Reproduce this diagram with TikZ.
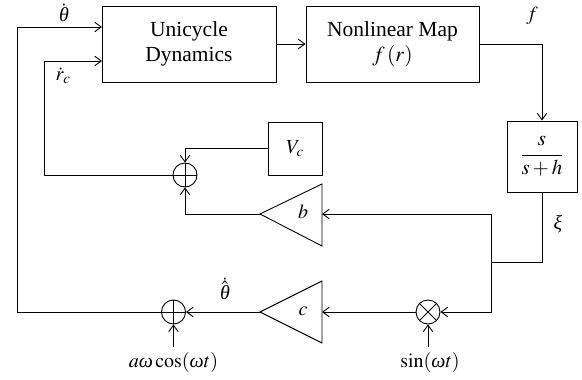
\documentclass[tikz,border=0pt]{standalone}
\usepackage{mathptmx}
\usepackage{fontspec}
\setmainfont{Liberation Serif}
\usetikzlibrary{arrows.meta}

% italic Greek taken from the text face
\newcommand{\gk}[1]{\mbox{\itshape #1}}

\tikzset{
  wire/.style={line width=0.9pt},
  flow/.style={wire, -{Straight Barb[length=6.5pt,width=9.5pt,line width=0.9pt]}},
  blockbox/.style={draw, line width=0.9pt, inner sep=0pt, align=center,
    font=\fontsize{21.5}{25}\selectfont},
  junction/.style={draw, circle, line width=0.9pt, minimum size=24pt, inner sep=0pt},
  lbl/.style={inner sep=0pt, font=\fontsize{20}{23}\selectfont},
}

\begin{document}
\begin{tikzpicture}[x=1pt, y=-1pt]
\useasboundingbox (0,0) rectangle (582,380);

% main blocks
\node[blockbox, minimum width=174pt, minimum height=76pt] (uni) at (189,44) {Unicycle\\Dynamics};
\node[blockbox, minimum width=173pt, minimum height=76pt] (nlm) at (392.5,44) {Nonlinear Map\\$f\,(r)$};
\node[blockbox, minimum width=70pt, minimum height=71pt] (filt) at (542,156.5) {\fontsize{21}{24}\selectfont$\displaystyle\frac{s}{s+h}$};
\node[blockbox, minimum width=54pt, minimum height=53pt] (vc) at (295,148.5) {\fontsize{20}{23}\selectfont$V_{c}$};

% gain triangles
\coordinate (bTip) at (260,214);
\coordinate (bIn) at (322,214);
\draw[wire, line join=miter] (bTip) -- (322,184) -- (322,246) -- cycle;
\node[lbl] (bLab) at (303,212) {$b$};

\coordinate (cTip) at (260,312);
\coordinate (cIn) at (322,312);
\draw[wire, line join=miter] (cTip) -- (322,281) -- (322,343) -- cycle;
\node[lbl] (cLab) at (303,311) {$c$};

% summing and multiplying junctions
\node[junction] (sumA) at (185,175) {};
\draw[wire] (sumA.north) -- (sumA.south) (sumA.west) -- (sumA.east);
\node[junction] (sumB) at (173.5,312) {};
\draw[wire] (sumB.north) -- (sumB.south) (sumB.west) -- (sumB.east);
\node[junction] (mult) at (428,312) {};
\draw[wire] (mult.north west) -- (mult.south east) (mult.north east) -- (mult.south west);

% external signals
\node[lbl] (cosIn) at (173.5,362) {$a\gk{ω}\cos(\gk{ω}t)$};
\node[lbl] (sinIn) at (430,362) {$\sin(\gk{ω}t)$};
\coordinate (cosTop) at (173.5,347);
\coordinate (sinTop) at (428,347);

% routing points
\coordinate (fCorner) at (542,44);
\coordinate (xiEnd) at (542,262);
\coordinate (split) at (491,262);
\coordinate (splitB) at (491,214);
\coordinate (splitC) at (491,312);
\coordinate (thIn) at (102,27);
\coordinate (rIn) at (102,61);

% forward path
\draw[flow] (uni.east) -- (nlm.west);
\draw[flow] (nlm.east) -- (fCorner) -- (filt.north);
\draw[wire] (filt.south) -- (xiEnd) -- (split);
\draw[flow] (split) -- (splitB) -- (bIn);
\draw[flow] (split) -- (splitC) -- (mult.east);
\draw[flow] (mult.west) -- (cIn);
\draw[flow] (cTip) -- (sumB.east);
\draw[flow] (sinTop) -- (mult.south);
\draw[flow] (cosTop) -- (sumB.south);

% feedback paths
\draw[flow] (sumB.west) -| (17,27) -- (thIn);
\draw[flow] (bTip) -| (sumA.south);
\draw[flow] (vc.west |- 0,148) -| (sumA.north);
\draw[flow] (sumA.west) -| (44,61) -- (rIn);

% signal labels
\node[lbl] (fLab) at (532,16) {$f$};
\node[lbl] (xiLab) at (558,224) {\itshape ξ};
\node[lbl] (thLab) at (64,13) {$\dot{\gk{θ}}$};
\node[lbl] (rLab) at (63,76) {$\dot{r}_{c}$};
\node[lbl] (thHatLab) at (225,289) {$\dot{\hat{\gk{θ}}}$};
\end{tikzpicture}
\end{document}
